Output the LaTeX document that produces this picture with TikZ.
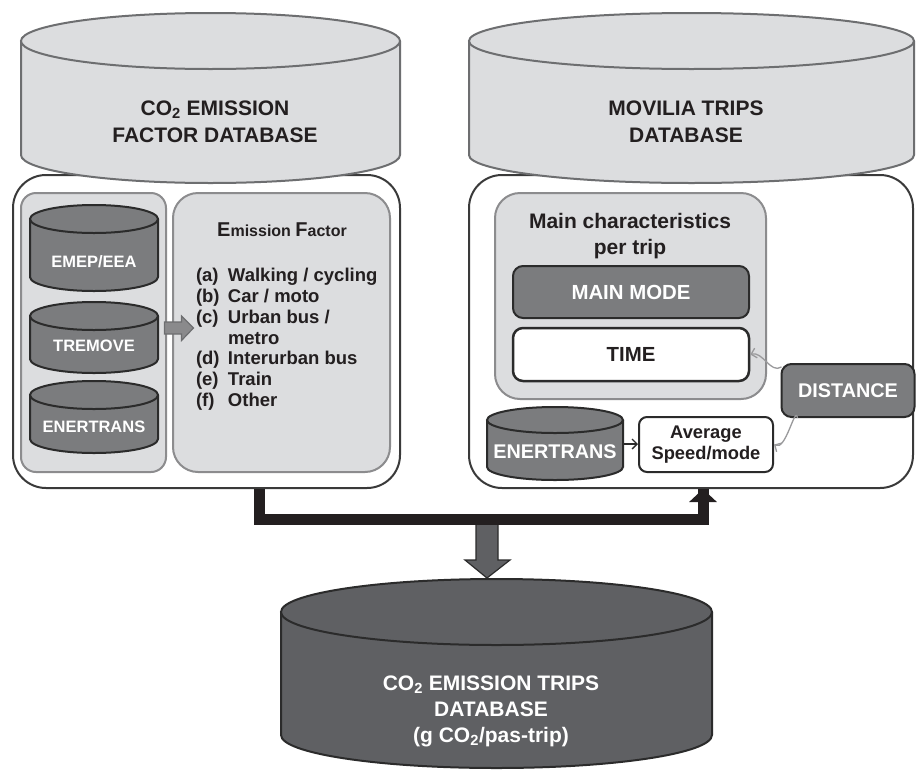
\documentclass[tikz,border=0pt]{standalone}
\usepackage{fontspec}
\setmainfont{Liberation Sans}
\usetikzlibrary{arrows.meta,calc}
\definecolor{lg}{HTML}{DCDDDF}
\definecolor{mg}{HTML}{7B7C7E}
\definecolor{dg}{HTML}{5F6063}
\definecolor{ink}{HTML}{231F20}
\definecolor{cylline}{HTML}{6D6E70}
\definecolor{boxline}{HTML}{3A3A3A}
\definecolor{inline}{HTML}{8C8C8E}
\definecolor{cyldark}{HTML}{2B2B2B}
\definecolor{arrg}{HTML}{8A8A8C}
\definecolor{thinl}{HTML}{9A9A9C}
\newcommand\dbcyl[7]{%
  \fill[#6] (#1,#3) -- (#1,#4) arc[start angle=180,end angle=0,x radius={(#2-#1)/2},y radius=#5] -- (#2,#3) -- cycle;
  \draw[#7] (#1,#3) -- (#1,#4) arc[start angle=180,end angle=0,x radius={(#2-#1)/2},y radius=#5] -- (#2,#3);
  \filldraw[fill=#6,draw=#7] ({(#1+#2)/2},#3) ellipse[x radius={(#2-#1)/2},y radius=#5];
}
\begin{document}
\begin{tikzpicture}[x=1pt,y=-1pt,line width=2pt,
  outerbox/.style={draw=boxline,fill=white,rounded corners=33pt,inner sep=0},
  innerbox/.style={draw=inline,fill=lg,inner sep=0},
  tb/.style={font=\fontsize{21}{27}\selectfont\bfseries,text=ink,align=center,inner sep=0},
  wt/.style={font=\fontsize{16.5}{20}\selectfont\bfseries,text=white,align=center,inner sep=0},
  darkbox/.style={draw=cyldark,fill=mg,rounded corners=10pt,text=white,font=\fontsize{20.4}{24}\selectfont\bfseries,inner sep=0},
  whitebox/.style={draw=cyldark,fill=white,rounded corners=10pt,text=ink,font=\fontsize{20.4}{24}\selectfont\bfseries,inner sep=0,align=center},
  thinarrow/.style={draw=thinl,line width=1.3pt,-{Straight Barb[length=5pt,width=10pt]}},
  bar/.style={draw=ink,line width=11pt,line join=miter}
]
\useasboundingbox (0,0) rectangle (916,769);
\fill[white] (0,0) rectangle (916,769);

% outer boxes
\node[outerbox,minimum width=387pt,minimum height=313pt] (lo) at (206.5,331.5) {};
\node[outerbox,minimum width=444pt,minimum height=313pt] (ro) at (691,331.5) {};

% big cylinders
\dbcyl{21}{400}{41}{155}{28}{lg}{cylline}
\node[tb] (efdb) at (215,121.5) {CO\textsubscript{2} EMISSION\\FACTOR DATABASE};
\dbcyl{469}{914}{41}{155}{28}{lg}{cylline}
\node[tb] (mtdb) at (686,121.5) {MOVILIA TRIPS\\DATABASE};

% left inner content
\node[innerbox,rounded corners=15pt,minimum width=145pt,minimum height=279pt] (li) at (93.5,332.5) {};
\node[innerbox,rounded corners=25pt,minimum width=217pt,minimum height=279pt] (ef) at (281.5,332.5) {};
\node[text=ink,inner sep=0,font=\bfseries] (eft) at (282,230)
  {{\fontsize{20}{24}\selectfont E}{\fontsize{16}{20}\selectfont mission }{\fontsize{20}{24}\selectfont F}{\fontsize{16}{20}\selectfont actor}};
\node[anchor=north west,inner sep=0,text=ink,font=\fontsize{18.5}{20.7}\selectfont\bfseries] (eflist) at (195,266.5)
  {\begin{tabular}{@{}p{32pt}@{}l@{}}
   (a) & Walking / cycling\\
   (b) & Car / moto\\
   (c) & Urban bus /\\
       & metro\\
   (d) & Interurban bus\\
   (e) & Train\\
   (f) & Other
   \end{tabular}};

\dbcyl{30}{158}{219}{277}{14}{mg}{cyldark}
\node[wt] (emep) at (94,262) {EMEP/EEA};
\dbcyl{30}{158}{316}{359}{14}{mg}{cyldark}
\node[wt] (tremove) at (94,346) {TREMOVE};
\dbcyl{30}{158}{395}{439}{14}{mg}{cyldark}
\node[wt] (ener1) at (94,427) {ENERTRANS};

\filldraw[fill=arrg,draw=cylline,line width=1.2pt]
  (164.5,322) -- (181.5,322) -- (181.5,316) -- (193.5,328) -- (181.5,340.5) -- (181.5,334) -- (164.5,334) -- cycle;

% right inner content
\node[innerbox,rounded corners=25pt,minimum width=271pt,minimum height=206pt] (mc) at (630.5,296) {};
\node[tb,font=\fontsize{21}{26}\selectfont\bfseries] (mct) at (630,236) {Main characteristics\\per trip};
\node[darkbox,minimum width=236pt,minimum height=52pt] (mm) at (631,292) {MAIN MODE};
\node[whitebox,line width=2.5pt,minimum width=236pt,minimum height=53pt] (time) at (631,354.5) {TIME};
\node[darkbox,font=\fontsize{19.8}{24}\selectfont\bfseries,minimum width=133pt,minimum height=53pt] (dist) at (848,390.5) {DISTANCE};
\dbcyl{487}{623}{420}{467}{13}{mg}{cyldark}
\node[wt,font=\fontsize{19.8}{24}\selectfont\bfseries] (ener2) at (555,452) {ENERTRANS};
\node[whitebox,rounded corners=8pt,font=\fontsize{18.3}{21}\selectfont\bfseries,minimum width=134pt,minimum height=55pt] (avg) at (706,444.5) {Average\\Speed/mode};

\coordinate (ener2e) at (623,444);
\draw[draw=cyldark,line width=1.3pt,-{Straight Barb[length=5pt,width=10pt]}] (ener2e) -- (avg.west |- ener2e);
\draw[thinarrow] ($(dist.north west)+(1,4)$) to[out=212,in=15] (time.east);
\draw[thinarrow] ($(dist.south west)+(17,0)$) to[out=100,in=-30] (avg.east);

% bottom connectors
\coordinate (barL) at (259,519);
\coordinate (barR) at (703,519);
\coordinate (dtop) at (487,519);
\filldraw[fill=dg,draw=cyldark,line width=1.2pt]
  (476,520) -- (476,560) -- (465,560) -- (487,578) -- (510,560) -- (498,560) -- (498,520) -- cycle;
\draw[bar] (barL |- lo.south) -- (barL) -- (barR) -- (barR |- ro.south);
\draw[draw=ink,line width=11pt,-{Triangle[width=27pt,length=13pt]}] ($(barR)+(0,-10)$) -- (barR |- ro.south);

% bottom cylinder
\dbcyl{281}{712}{612}{735}{33}{dg}{cyldark}
\node[tb,text=white,font=\fontsize{21}{26}\selectfont\bfseries] (ctdb) at (491,711)
  {CO\textsubscript{2} EMISSION TRIPS\\DATABASE\\(g CO\textsubscript{2}/pas-trip)};
\end{tikzpicture}
\end{document}
